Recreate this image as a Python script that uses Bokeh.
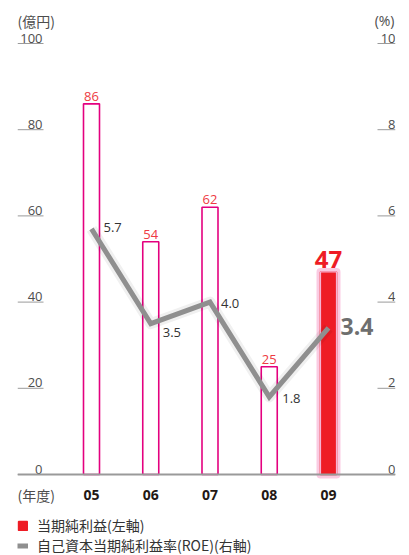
import math
from bokeh.plotting import figure
from bokeh.models import (Range1d, ColumnDataSource, Span, Label, Legend, LegendItem)
from bokeh.core.properties import value
from bokeh.embed import file_html
from bokeh.resources import INLINE

# ---- data ----
years = ["05", "06", "07", "08", "09"]
net_income = [86, 54, 62, 25, 47]          # 億円 (left axis)
roe = [5.7, 3.5, 4.0, 1.8, 3.4]            # % (right axis)
left_ticks = [0, 20, 40, 60, 80, 100]
right_ticks = [0, 2, 4, 6, 8, 10]
left_unit = "(億円)"
right_unit = "(%)"
year_unit = "(年度)"
legend_bar = "当期純利益(左軸)"
legend_line = "自己資本当期純利益率(ROE)(右軸)"

JP = "Noto Sans CJK JP"
NUM = "Open Sans"
MAGENTA = "#E4007F"
RED = "#EE1C25"
LABEL_RED = "#EE3A43"
GRAY_LINE = "#8F8F8F"
TICK_GRAY = "#9A9A9A"

W, H = 409, 555
xs = list(range(len(years)))
last = len(years) - 1

# layout geometry (pixels)
slot = 59.25
frame_left_pad = 74 / slot
frame_right_pad = 67 / slot
px_per_unit = 431 / 100.0
zero_y = 474
y_end = zero_y / px_per_unit
y_start = -(H - zero_y) / px_per_unit

p = figure(width=W, height=H, output_backend="svg", toolbar_location=None,
           x_range=Range1d(-frame_left_pad, last + frame_right_pad),
           y_range=Range1d(y_start, y_end),
           min_border_left=17, min_border_right=14, min_border_top=0, min_border_bottom=0)
p.extra_y_ranges = {"roe": Range1d(y_start / 10, y_end / 10)}
p.xaxis.visible = False
p.yaxis.visible = False
p.xgrid.visible = False
p.ygrid.visible = False
p.outline_line_color = None
p.background_fill_color = "white"
p.border_fill_color = "white"

xs0 = p.x_range.start
xs1 = p.x_range.end

# ---- tick underlines + labels ----
p.ray(x=[xs0] * len(left_ticks), y=left_ticks, length=26, length_units="screen",
      angle=0, line_color=TICK_GRAY, line_width=1)
p.ray(x=[xs1] * len(right_ticks), y=right_ticks, length=18, length_units="screen",
      angle=math.pi, line_color=TICK_GRAY, line_width=1, y_range_name="roe")
p.text(x=[xs0] * len(left_ticks), y=left_ticks, text=[str(t) for t in left_ticks],
       x_offset=25, y_offset=-1, text_align="right", text_baseline="bottom",
       text_font=value(NUM), text_font_size="13px", text_color="#4D4D4D")
p.text(x=[xs1] * len(right_ticks), y=right_ticks, text=[str(t) for t in right_ticks],
       x_offset=0, y_offset=-1, text_align="right", text_baseline="bottom",
       text_font=value(NUM), text_font_size="13px", text_color="#4D4D4D", y_range_name="roe")

# baseline
p.add_layout(Span(location=0, dimension="width", line_color=TICK_GRAY, line_width=2))

# ---- bars ----
src = ColumnDataSource(dict(
    x=xs, v=net_income,
    fill=[RED if i == last else "white" for i in xs],
    line=[RED if i == last else MAGENTA for i in xs],
    glow=[0.45 if i == last else 0.0 for i in xs],
))
bw = 16 / slot
p.vbar(x="x", top="v", bottom=0, width=bw, source=src, fill_color=None,
       line_color="#F58CBE", line_alpha="glow", line_width=8, line_join="round")
bars = p.vbar(x="x", top="v", bottom=0, width=bw, source=src, fill_color="fill",
              line_color="line", line_width=1.6)
p.vbar(x=[xs[last]], top=[net_income[last]], bottom=0, width=bw, fill_color=None,
       line_color="#F7B3D2", line_width=1.2)

# value labels
p.text(x=xs[:last], y=net_income[:last], text=[str(v) for v in net_income[:last]],
       y_offset=-3, text_align="center", text_baseline="bottom",
       text_font=value(NUM), text_font_size="13px", text_color=LABEL_RED)
p.text(x=[xs[last]], y=[net_income[last]], text=[str(net_income[last])],
       y_offset=-4, text_align="center", text_baseline="bottom",
       text_font=value(NUM), text_font_size="24px", text_font_style="bold", text_color=RED)

# ---- ROE line ----
p.line(x=xs, y=roe, y_range_name="roe", line_color="#000000", line_alpha=0.06,
       line_width=11, line_join="round")
roe_line = p.line(x=xs, y=roe, y_range_name="roe", line_color=GRAY_LINE, line_width=5,
                  line_join="miter")
roe_dx = [12, 12, 11, 13, 12]
roe_dy = [-1, 9, 1, 2, -1]
p.text(x=xs[:last], y=roe[:last], text=[f"{v:.1f}" for v in roe[:last]],
       x_offset=roe_dx[:last], y_offset=roe_dy[:last], y_range_name="roe",
       text_align="left", text_baseline="middle",
       text_font=value(NUM), text_font_size="13px", text_color="#333333")
p.text(x=[xs[last]], y=[roe[last]], text=[f"{roe[last]:.1f}"],
       x_offset=roe_dx[last], y_offset=roe_dy[last], y_range_name="roe",
       text_align="left", text_baseline="middle",
       text_font=value(NUM), text_font_size="23px", text_font_style="bold", text_color="#6E6E6E")

# category labels under baseline
p.text(x=xs, y=[0] * len(xs), text=years, y_offset=20, text_align="center",
       text_baseline="middle", text_font=value(NUM), text_font_size="14px",
       text_font_style="bold", text_color="#231815")

# unit headers
p.add_layout(Label(x=xs0, y=y_end, x_offset=0, y_offset=-20, text=left_unit,
                   text_baseline="middle", text_align="left", text_font=JP,
                   text_font_size="14px", text_color="#4D4D4D"))
p.add_layout(Label(x=xs1, y=y_end, x_offset=-1, y_offset=-20, text=right_unit,
                   text_baseline="middle", text_align="right", text_font=NUM,
                   text_font_size="14px", text_color="#4D4D4D"))
p.add_layout(Label(x=xs0, y=0, x_offset=0, y_offset=-20, text=year_unit,
                   text_baseline="middle", text_align="left", text_font=JP,
                   text_font_size="14px", text_color="#4D4D4D"))

# ---- legends ----
for item, loc in ((LegendItem(label=legend_bar, renderers=[bars], index=last), (0, 20)),
                  (LegendItem(label=legend_line, renderers=[roe_line]), (0, 0))):
    lg = Legend(items=[item], location=loc, orientation="vertical",
                glyph_width=11, glyph_height=11, label_standoff=9, padding=0, margin=0,
                spacing=0, border_line_color=None, background_fill_alpha=0,
                label_text_font=JP, label_text_font_size="14px", label_text_color="#333333",
                label_height=20)
    p.add_layout(lg)

open("out.html", "w").write(file_html(p, INLINE))
